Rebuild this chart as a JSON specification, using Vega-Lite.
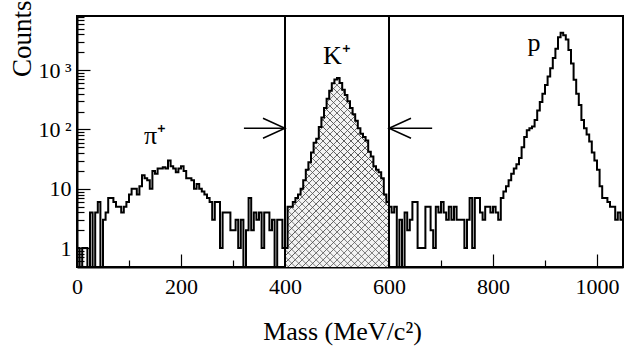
{
  "$schema": "https://vega.github.io/schema/vega-lite/v6.json",
  "width": 546,
  "height": 251,
  "autosize": {"type": "none"},
  "padding": {"left": 77, "top": 16, "right": 18, "bottom": 82},
  "background": "white",
  "config": {
    "view": {"stroke": "black", "strokeWidth": 2},
    "font": "Liberation Serif",
    "axis": {"labelFont": "Liberation Serif", "titleFont": "Liberation Serif"},
    "style": {"guide-label": {"font": "Liberation Serif"}, "guide-title": {"font": "Liberation Serif"}}
  },
  "datasets": {
    "hist": [
      {"lo":0,"hi":5,"n":1},{"lo":5,"hi":10,"n":0},{"lo":10,"hi":15,"n":1},{"lo":15,"hi":20,"n":1},{"lo":20,"hi":25,"n":0},
      {"lo":25,"hi":30,"n":4},{"lo":30,"hi":35,"n":0},{"lo":35,"hi":40,"n":4},{"lo":40,"hi":45,"n":6},{"lo":45,"hi":50,"n":0},
      {"lo":50,"hi":55,"n":3},{"lo":55,"hi":60,"n":4},{"lo":60,"hi":65,"n":7},{"lo":65,"hi":70,"n":7},{"lo":70,"hi":75,"n":6},
      {"lo":75,"hi":80,"n":5},{"lo":80,"hi":85,"n":5},{"lo":85,"hi":90,"n":4},{"lo":90,"hi":95,"n":5},{"lo":95,"hi":100,"n":6},
      {"lo":100,"hi":105,"n":8},{"lo":105,"hi":110,"n":10},{"lo":110,"hi":115,"n":10},{"lo":115,"hi":120,"n":8},{"lo":120,"hi":125,"n":11},
      {"lo":125,"hi":130,"n":17},{"lo":130,"hi":135,"n":15},{"lo":135,"hi":140,"n":14},{"lo":140,"hi":145,"n":10},{"lo":145,"hi":150,"n":20},
      {"lo":150,"hi":155,"n":18},{"lo":155,"hi":160,"n":22},{"lo":160,"hi":165,"n":22},{"lo":165,"hi":170,"n":23},{"lo":170,"hi":175,"n":22},
      {"lo":175,"hi":180,"n":30},{"lo":180,"hi":185,"n":24},{"lo":185,"hi":190,"n":22},{"lo":190,"hi":195,"n":19},{"lo":195,"hi":200,"n":22},
      {"lo":200,"hi":205,"n":24},{"lo":205,"hi":210,"n":20},{"lo":210,"hi":215,"n":15},{"lo":215,"hi":220,"n":15},{"lo":220,"hi":225,"n":14},
      {"lo":225,"hi":230,"n":10},{"lo":230,"hi":235,"n":12},{"lo":235,"hi":240,"n":10},{"lo":240,"hi":245,"n":9},{"lo":245,"hi":250,"n":8},
      {"lo":250,"hi":255,"n":7},{"lo":255,"hi":260,"n":6},{"lo":260,"hi":265,"n":3},{"lo":265,"hi":270,"n":6},{"lo":270,"hi":275,"n":6},
      {"lo":275,"hi":280,"n":1},{"lo":280,"hi":285,"n":4},{"lo":285,"hi":290,"n":4},{"lo":290,"hi":295,"n":4},{"lo":295,"hi":300,"n":2},
      {"lo":300,"hi":305,"n":2},{"lo":305,"hi":310,"n":3},{"lo":310,"hi":315,"n":1},{"lo":315,"hi":320,"n":3},{"lo":320,"hi":325,"n":0},
      {"lo":325,"hi":330,"n":2},{"lo":330,"hi":335,"n":7},{"lo":335,"hi":340,"n":2},{"lo":340,"hi":345,"n":4},{"lo":345,"hi":350,"n":3},
      {"lo":350,"hi":355,"n":4},{"lo":355,"hi":360,"n":1},{"lo":360,"hi":365,"n":4},{"lo":365,"hi":370,"n":4},{"lo":370,"hi":375,"n":2},
      {"lo":375,"hi":380,"n":3},{"lo":380,"hi":385,"n":0},{"lo":385,"hi":390,"n":3},{"lo":390,"hi":395,"n":3},{"lo":395,"hi":400,"n":1},
      {"lo":400,"hi":405,"n":1},{"lo":405,"hi":410,"n":5},{"lo":410,"hi":415,"n":5},{"lo":415,"hi":420,"n":6},{"lo":420,"hi":425,"n":7},
      {"lo":425,"hi":430,"n":8},{"lo":430,"hi":435,"n":10},{"lo":435,"hi":440,"n":14},{"lo":440,"hi":445,"n":21},{"lo":445,"hi":450,"n":28},
      {"lo":450,"hi":455,"n":41},{"lo":455,"hi":460,"n":60},{"lo":460,"hi":465,"n":70},{"lo":465,"hi":470,"n":110},{"lo":470,"hi":475,"n":160},
      {"lo":475,"hi":480,"n":230},{"lo":480,"hi":485,"n":330},{"lo":485,"hi":490,"n":450},{"lo":490,"hi":495,"n":600},{"lo":495,"hi":500,"n":700},
      {"lo":500,"hi":505,"n":740},{"lo":505,"hi":510,"n":610},{"lo":510,"hi":515,"n":470},{"lo":515,"hi":520,"n":380},{"lo":520,"hi":525,"n":300},
      {"lo":525,"hi":530,"n":230},{"lo":530,"hi":535,"n":180},{"lo":535,"hi":540,"n":140},{"lo":540,"hi":545,"n":105},{"lo":545,"hi":550,"n":85},
      {"lo":550,"hi":555,"n":75},{"lo":555,"hi":560,"n":65},{"lo":560,"hi":565,"n":42},{"lo":565,"hi":570,"n":35},{"lo":570,"hi":575,"n":24},
      {"lo":575,"hi":580,"n":21},{"lo":580,"hi":585,"n":19},{"lo":585,"hi":590,"n":15},{"lo":590,"hi":595,"n":8},{"lo":595,"hi":600,"n":6},
      {"lo":600,"hi":605,"n":5},{"lo":605,"hi":610,"n":4},{"lo":610,"hi":615,"n":5},{"lo":615,"hi":620,"n":0},{"lo":620,"hi":625,"n":3},
      {"lo":625,"hi":630,"n":0},{"lo":630,"hi":635,"n":4},{"lo":635,"hi":640,"n":2},{"lo":640,"hi":645,"n":3},{"lo":645,"hi":650,"n":6},
      {"lo":650,"hi":655,"n":6},{"lo":655,"hi":660,"n":1},{"lo":660,"hi":665,"n":1},{"lo":665,"hi":670,"n":1},{"lo":670,"hi":675,"n":5},
      {"lo":675,"hi":680,"n":5},{"lo":680,"hi":685,"n":2},{"lo":685,"hi":690,"n":1},{"lo":690,"hi":695,"n":5},{"lo":695,"hi":700,"n":4},
      {"lo":700,"hi":705,"n":6},{"lo":705,"hi":710,"n":4},{"lo":710,"hi":715,"n":3},{"lo":715,"hi":720,"n":5},{"lo":720,"hi":725,"n":3},
      {"lo":725,"hi":730,"n":5},{"lo":730,"hi":735,"n":3},{"lo":735,"hi":740,"n":3},{"lo":740,"hi":745,"n":3},{"lo":745,"hi":750,"n":1},
      {"lo":750,"hi":755,"n":3},{"lo":755,"hi":760,"n":7},{"lo":760,"hi":765,"n":1},{"lo":765,"hi":770,"n":7},{"lo":770,"hi":775,"n":7},
      {"lo":775,"hi":780,"n":4},{"lo":780,"hi":785,"n":3},{"lo":785,"hi":790,"n":5},{"lo":790,"hi":795,"n":5},{"lo":795,"hi":800,"n":4},
      {"lo":800,"hi":805,"n":5},{"lo":805,"hi":810,"n":4},{"lo":810,"hi":815,"n":3},{"lo":815,"hi":820,"n":7},{"lo":820,"hi":825,"n":9},
      {"lo":825,"hi":830,"n":11},{"lo":830,"hi":835,"n":14},{"lo":835,"hi":840,"n":18},{"lo":840,"hi":845,"n":22},{"lo":845,"hi":850,"n":26},
      {"lo":850,"hi":855,"n":33},{"lo":855,"hi":860,"n":50},{"lo":860,"hi":865,"n":75},{"lo":865,"hi":870,"n":97},{"lo":870,"hi":875,"n":105},
      {"lo":875,"hi":880,"n":112},{"lo":880,"hi":885,"n":145},{"lo":885,"hi":890,"n":210},{"lo":890,"hi":895,"n":290},{"lo":895,"hi":900,"n":400},
      {"lo":900,"hi":905,"n":560},{"lo":905,"hi":910,"n":780},{"lo":910,"hi":915,"n":1080},{"lo":915,"hi":920,"n":1600},{"lo":920,"hi":925,"n":2300},
      {"lo":925,"hi":930,"n":3600},{"lo":930,"hi":935,"n":4300},{"lo":935,"hi":940,"n":3900},{"lo":940,"hi":945,"n":3300},{"lo":945,"hi":950,"n":2200},
      {"lo":950,"hi":955,"n":1300},{"lo":955,"hi":960,"n":690},{"lo":960,"hi":965,"n":400},{"lo":965,"hi":970,"n":260},{"lo":970,"hi":975,"n":145},
      {"lo":975,"hi":980,"n":105},{"lo":980,"hi":985,"n":82},{"lo":985,"hi":990,"n":63},{"lo":990,"hi":995,"n":41},{"lo":995,"hi":1000,"n":30},
      {"lo":1000,"hi":1005,"n":21},{"lo":1005,"hi":1010,"n":11},{"lo":1010,"hi":1015,"n":7},{"lo":1015,"hi":1020,"n":7},{"lo":1020,"hi":1025,"n":6},
      {"lo":1025,"hi":1030,"n":5},{"lo":1030,"hi":1035,"n":5},{"lo":1035,"hi":1040,"n":3},{"lo":1040,"hi":1045,"n":4},{"lo":1045,"hi":1050,"n":3}
    ],
    "cuts": [{"mass": 400}, {"mass": 600}],
    "arrows": [
      {"mass": 321, "mass2": 400, "n": 105, "dir": "right"},
      {"mass": 683, "mass2": 600, "n": 105, "dir": "left"}
    ],
    "labels": [
      {"t": "π⁺", "mass": 150, "n": 56},
      {"t": "K⁺", "mass": 500, "n": 1260},
      {"t": "p", "mass": 879, "n": 2100}
    ]
  },
  "layer": [
    {
      "data": {"name": "hist"},
      "transform": [
        {"filter": "datum.lo >= 400 && datum.hi <= 600"},
        {"fold": ["lo", "hi"], "as": ["edge", "mass"]}
      ],
      "mark": {
        "type": "area", "interpolate": "linear", "clip": true,
        "fill": {
          "gradient": "linear", "x1": 0, "y1": 0, "x2": 1, "y2": 1.817,
          "stops": [
            {"offset": 0, "color": "#f3f3f3"},
            {"offset": 0.006, "color": "#f3f3f3"},{"offset": 0.0078, "color": "#555555"},{"offset": 0.0096, "color": "#f3f3f3"},
            {"offset": 0.0216, "color": "#f3f3f3"},{"offset": 0.0234, "color": "#555555"},{"offset": 0.0252, "color": "#f3f3f3"},
            {"offset": 0.0372, "color": "#f3f3f3"},{"offset": 0.039, "color": "#555555"},{"offset": 0.0408, "color": "#f3f3f3"},
            {"offset": 0.0528, "color": "#f3f3f3"},{"offset": 0.0546, "color": "#555555"},{"offset": 0.0564, "color": "#f3f3f3"},
            {"offset": 0.0684, "color": "#f3f3f3"},{"offset": 0.0702, "color": "#555555"},{"offset": 0.072, "color": "#f3f3f3"},
            {"offset": 0.084, "color": "#f3f3f3"},{"offset": 0.0858, "color": "#555555"},{"offset": 0.0876, "color": "#f3f3f3"},
            {"offset": 0.0996, "color": "#f3f3f3"},{"offset": 0.1014, "color": "#555555"},{"offset": 0.1032, "color": "#f3f3f3"},
            {"offset": 0.1152, "color": "#f3f3f3"},{"offset": 0.117, "color": "#555555"},{"offset": 0.1188, "color": "#f3f3f3"},
            {"offset": 0.1308, "color": "#f3f3f3"},{"offset": 0.1326, "color": "#555555"},{"offset": 0.1344, "color": "#f3f3f3"},
            {"offset": 0.1464, "color": "#f3f3f3"},{"offset": 0.1482, "color": "#555555"},{"offset": 0.15, "color": "#f3f3f3"},
            {"offset": 0.162, "color": "#f3f3f3"},{"offset": 0.1638, "color": "#555555"},{"offset": 0.1656, "color": "#f3f3f3"},
            {"offset": 0.1776, "color": "#f3f3f3"},{"offset": 0.1794, "color": "#555555"},{"offset": 0.1812, "color": "#f3f3f3"},
            {"offset": 0.1932, "color": "#f3f3f3"},{"offset": 0.195, "color": "#555555"},{"offset": 0.1968, "color": "#f3f3f3"},
            {"offset": 0.2088, "color": "#f3f3f3"},{"offset": 0.2106, "color": "#555555"},{"offset": 0.2124, "color": "#f3f3f3"},
            {"offset": 0.2244, "color": "#f3f3f3"},{"offset": 0.2262, "color": "#555555"},{"offset": 0.228, "color": "#f3f3f3"},
            {"offset": 0.24, "color": "#f3f3f3"},{"offset": 0.2418, "color": "#555555"},{"offset": 0.2436, "color": "#f3f3f3"},
            {"offset": 0.2556, "color": "#f3f3f3"},{"offset": 0.2574, "color": "#555555"},{"offset": 0.2592, "color": "#f3f3f3"},
            {"offset": 0.2712, "color": "#f3f3f3"},{"offset": 0.273, "color": "#555555"},{"offset": 0.2748, "color": "#f3f3f3"},
            {"offset": 0.2868, "color": "#f3f3f3"},{"offset": 0.2886, "color": "#555555"},{"offset": 0.2904, "color": "#f3f3f3"},
            {"offset": 0.3024, "color": "#f3f3f3"},{"offset": 0.3042, "color": "#555555"},{"offset": 0.306, "color": "#f3f3f3"},
            {"offset": 0.318, "color": "#f3f3f3"},{"offset": 0.3198, "color": "#555555"},{"offset": 0.3216, "color": "#f3f3f3"},
            {"offset": 0.3336, "color": "#f3f3f3"},{"offset": 0.3354, "color": "#555555"},{"offset": 0.3372, "color": "#f3f3f3"},
            {"offset": 0.3492, "color": "#f3f3f3"},{"offset": 0.351, "color": "#555555"},{"offset": 0.3528, "color": "#f3f3f3"},
            {"offset": 0.3648, "color": "#f3f3f3"},{"offset": 0.3666, "color": "#555555"},{"offset": 0.3684, "color": "#f3f3f3"},
            {"offset": 0.3804, "color": "#f3f3f3"},{"offset": 0.3822, "color": "#555555"},{"offset": 0.384, "color": "#f3f3f3"},
            {"offset": 0.396, "color": "#f3f3f3"},{"offset": 0.3978, "color": "#555555"},{"offset": 0.3996, "color": "#f3f3f3"},
            {"offset": 0.4116, "color": "#f3f3f3"},{"offset": 0.4134, "color": "#555555"},{"offset": 0.4152, "color": "#f3f3f3"},
            {"offset": 0.4272, "color": "#f3f3f3"},{"offset": 0.429, "color": "#555555"},{"offset": 0.4308, "color": "#f3f3f3"},
            {"offset": 0.4428, "color": "#f3f3f3"},{"offset": 0.4446, "color": "#555555"},{"offset": 0.4464, "color": "#f3f3f3"},
            {"offset": 0.4584, "color": "#f3f3f3"},{"offset": 0.4602, "color": "#555555"},{"offset": 0.462, "color": "#f3f3f3"},
            {"offset": 0.474, "color": "#f3f3f3"},{"offset": 0.4758, "color": "#555555"},{"offset": 0.4776, "color": "#f3f3f3"},
            {"offset": 0.4896, "color": "#f3f3f3"},{"offset": 0.4914, "color": "#555555"},{"offset": 0.4932, "color": "#f3f3f3"},
            {"offset": 0.5052, "color": "#f3f3f3"},{"offset": 0.507, "color": "#555555"},{"offset": 0.5088, "color": "#f3f3f3"},
            {"offset": 0.5208, "color": "#f3f3f3"},{"offset": 0.5226, "color": "#555555"},{"offset": 0.5244, "color": "#f3f3f3"},
            {"offset": 0.5364, "color": "#f3f3f3"},{"offset": 0.5382, "color": "#555555"},{"offset": 0.54, "color": "#f3f3f3"},
            {"offset": 0.552, "color": "#f3f3f3"},{"offset": 0.5538, "color": "#555555"},{"offset": 0.5556, "color": "#f3f3f3"},
            {"offset": 0.5676, "color": "#f3f3f3"},{"offset": 0.5694, "color": "#555555"},{"offset": 0.5712, "color": "#f3f3f3"},
            {"offset": 0.5832, "color": "#f3f3f3"},{"offset": 0.585, "color": "#555555"},{"offset": 0.5868, "color": "#f3f3f3"},
            {"offset": 0.5988, "color": "#f3f3f3"},{"offset": 0.6006, "color": "#555555"},{"offset": 0.6024, "color": "#f3f3f3"},
            {"offset": 0.6144, "color": "#f3f3f3"},{"offset": 0.6162, "color": "#555555"},{"offset": 0.618, "color": "#f3f3f3"},
            {"offset": 0.63, "color": "#f3f3f3"},{"offset": 0.6318, "color": "#555555"},{"offset": 0.6336, "color": "#f3f3f3"},
            {"offset": 0.6456, "color": "#f3f3f3"},{"offset": 0.6474, "color": "#555555"},{"offset": 0.6492, "color": "#f3f3f3"},
            {"offset": 0.6612, "color": "#f3f3f3"},{"offset": 0.663, "color": "#555555"},{"offset": 0.6648, "color": "#f3f3f3"},
            {"offset": 1, "color": "#f3f3f3"}
          ]
        }
      },
      "encoding": {
        "x": {
          "field": "mass", "type": "quantitative",
          "scale": {"domain": [0, 1050], "nice": false, "zero": false},
          "axis": {
            "title": "Mass (MeV/c²)",
            "values": [0,50,100,150,200,250,300,350,400,450,500,550,600,650,700,750,800,850,900,950,1000],
            "labelExpr": "datum.value % 200 === 0 ? format(datum.value, 'd') : ''",
            "tickSize": {"condition": {"test": "datum.value % 200 === 0", "value": -13}, "value": -7},
            "tickColor": "black", "tickWidth": 1.2,
            "domainColor": "black", "domainWidth": 2,
            "grid": false,
            "labelFont": "Liberation Serif", "labelFontSize": 22, "labelColor": "black",
            "labelPadding": 22, "labelFlush": false, "labelOverlap": false,
            "titleFont": "Liberation Serif", "titleFontSize": 26, "titleFontWeight": "normal", "titleColor": "black",
            "titleX": 265, "titleY": 72, "titleAlign": "center", "titleBaseline": "alphabetic"
          }
        },
        "y": {
          "field": "n", "type": "quantitative",
          "scale": {"type": "log", "domain": [0.48, 8200], "nice": false, "clamp": true},
          "axis": {
            "title": "Counts",
            "values": [0.5,0.6,0.7,0.8,0.9,1,2,3,4,5,6,7,8,9,10,20,30,40,50,60,70,80,90,100,200,300,400,500,600,700,800,900,1000,2000,3000,4000,5000,6000,7000,8000],
            "labelExpr": "datum.value == 1 ? '1\u2002' : datum.value == 10 ? '10\u2002' : datum.value == 100 ? '10\u2009²' : datum.value == 1000 ? '10\u2009³' : ''",
            "tickSize": {"condition": {"test": "datum.value == 1 || datum.value == 10 || datum.value == 100 || datum.value == 1000", "value": -13}, "value": -7},
            "tickColor": "black", "tickWidth": 1.2,
            "domainColor": "black", "domainWidth": 2,
            "grid": false,
            "labelFont": "Liberation Serif", "labelFontSize": 22, "labelColor": "black",
            "labelPadding": 19, "labelOverlap": false, "labelFlush": false,
            "titleFont": "Liberation Serif", "titleFontSize": 27, "titleFontWeight": "normal", "titleColor": "black",
            "titleAngle": -90, "titleX": -68, "titleY": -16, "titleAlign": "right", "titleBaseline": "top"
          }
        },
        "y2": {"datum": 0.48}
      }
    },
    {
      "data": {"name": "hist"},
      "transform": [
        {"filter": "datum.lo >= 400 && datum.hi <= 600"},
        {"fold": ["lo", "hi"], "as": ["edge", "mass"]}
      ],
      "mark": {
        "type": "area", "interpolate": "linear", "clip": true,
        "fill": {
          "gradient": "linear", "x1": 0, "y1": 1, "x2": 1, "y2": -0.817,
          "stops": [
            {"offset": 0, "color": "rgba(85,85,85,0)"},
            {"offset": 0.006, "color": "rgba(85,85,85,0)"},{"offset": 0.0078, "color": "#555555"},{"offset": 0.0096, "color": "rgba(85,85,85,0)"},
            {"offset": 0.0216, "color": "rgba(85,85,85,0)"},{"offset": 0.0234, "color": "#555555"},{"offset": 0.0252, "color": "rgba(85,85,85,0)"},
            {"offset": 0.0372, "color": "rgba(85,85,85,0)"},{"offset": 0.039, "color": "#555555"},{"offset": 0.0408, "color": "rgba(85,85,85,0)"},
            {"offset": 0.0528, "color": "rgba(85,85,85,0)"},{"offset": 0.0546, "color": "#555555"},{"offset": 0.0564, "color": "rgba(85,85,85,0)"},
            {"offset": 0.0684, "color": "rgba(85,85,85,0)"},{"offset": 0.0702, "color": "#555555"},{"offset": 0.072, "color": "rgba(85,85,85,0)"},
            {"offset": 0.084, "color": "rgba(85,85,85,0)"},{"offset": 0.0858, "color": "#555555"},{"offset": 0.0876, "color": "rgba(85,85,85,0)"},
            {"offset": 0.0996, "color": "rgba(85,85,85,0)"},{"offset": 0.1014, "color": "#555555"},{"offset": 0.1032, "color": "rgba(85,85,85,0)"},
            {"offset": 0.1152, "color": "rgba(85,85,85,0)"},{"offset": 0.117, "color": "#555555"},{"offset": 0.1188, "color": "rgba(85,85,85,0)"},
            {"offset": 0.1308, "color": "rgba(85,85,85,0)"},{"offset": 0.1326, "color": "#555555"},{"offset": 0.1344, "color": "rgba(85,85,85,0)"},
            {"offset": 0.1464, "color": "rgba(85,85,85,0)"},{"offset": 0.1482, "color": "#555555"},{"offset": 0.15, "color": "rgba(85,85,85,0)"},
            {"offset": 0.162, "color": "rgba(85,85,85,0)"},{"offset": 0.1638, "color": "#555555"},{"offset": 0.1656, "color": "rgba(85,85,85,0)"},
            {"offset": 0.1776, "color": "rgba(85,85,85,0)"},{"offset": 0.1794, "color": "#555555"},{"offset": 0.1812, "color": "rgba(85,85,85,0)"},
            {"offset": 0.1932, "color": "rgba(85,85,85,0)"},{"offset": 0.195, "color": "#555555"},{"offset": 0.1968, "color": "rgba(85,85,85,0)"},
            {"offset": 0.2088, "color": "rgba(85,85,85,0)"},{"offset": 0.2106, "color": "#555555"},{"offset": 0.2124, "color": "rgba(85,85,85,0)"},
            {"offset": 0.2244, "color": "rgba(85,85,85,0)"},{"offset": 0.2262, "color": "#555555"},{"offset": 0.228, "color": "rgba(85,85,85,0)"},
            {"offset": 0.24, "color": "rgba(85,85,85,0)"},{"offset": 0.2418, "color": "#555555"},{"offset": 0.2436, "color": "rgba(85,85,85,0)"},
            {"offset": 0.2556, "color": "rgba(85,85,85,0)"},{"offset": 0.2574, "color": "#555555"},{"offset": 0.2592, "color": "rgba(85,85,85,0)"},
            {"offset": 0.2712, "color": "rgba(85,85,85,0)"},{"offset": 0.273, "color": "#555555"},{"offset": 0.2748, "color": "rgba(85,85,85,0)"},
            {"offset": 0.2868, "color": "rgba(85,85,85,0)"},{"offset": 0.2886, "color": "#555555"},{"offset": 0.2904, "color": "rgba(85,85,85,0)"},
            {"offset": 0.3024, "color": "rgba(85,85,85,0)"},{"offset": 0.3042, "color": "#555555"},{"offset": 0.306, "color": "rgba(85,85,85,0)"},
            {"offset": 0.318, "color": "rgba(85,85,85,0)"},{"offset": 0.3198, "color": "#555555"},{"offset": 0.3216, "color": "rgba(85,85,85,0)"},
            {"offset": 0.3336, "color": "rgba(85,85,85,0)"},{"offset": 0.3354, "color": "#555555"},{"offset": 0.3372, "color": "rgba(85,85,85,0)"},
            {"offset": 0.3492, "color": "rgba(85,85,85,0)"},{"offset": 0.351, "color": "#555555"},{"offset": 0.3528, "color": "rgba(85,85,85,0)"},
            {"offset": 0.3648, "color": "rgba(85,85,85,0)"},{"offset": 0.3666, "color": "#555555"},{"offset": 0.3684, "color": "rgba(85,85,85,0)"},
            {"offset": 0.3804, "color": "rgba(85,85,85,0)"},{"offset": 0.3822, "color": "#555555"},{"offset": 0.384, "color": "rgba(85,85,85,0)"},
            {"offset": 0.396, "color": "rgba(85,85,85,0)"},{"offset": 0.3978, "color": "#555555"},{"offset": 0.3996, "color": "rgba(85,85,85,0)"},
            {"offset": 0.4116, "color": "rgba(85,85,85,0)"},{"offset": 0.4134, "color": "#555555"},{"offset": 0.4152, "color": "rgba(85,85,85,0)"},
            {"offset": 0.4272, "color": "rgba(85,85,85,0)"},{"offset": 0.429, "color": "#555555"},{"offset": 0.4308, "color": "rgba(85,85,85,0)"},
            {"offset": 0.4428, "color": "rgba(85,85,85,0)"},{"offset": 0.4446, "color": "#555555"},{"offset": 0.4464, "color": "rgba(85,85,85,0)"},
            {"offset": 0.4584, "color": "rgba(85,85,85,0)"},{"offset": 0.4602, "color": "#555555"},{"offset": 0.462, "color": "rgba(85,85,85,0)"},
            {"offset": 0.474, "color": "rgba(85,85,85,0)"},{"offset": 0.4758, "color": "#555555"},{"offset": 0.4776, "color": "rgba(85,85,85,0)"},
            {"offset": 0.4896, "color": "rgba(85,85,85,0)"},{"offset": 0.4914, "color": "#555555"},{"offset": 0.4932, "color": "rgba(85,85,85,0)"},
            {"offset": 0.5052, "color": "rgba(85,85,85,0)"},{"offset": 0.507, "color": "#555555"},{"offset": 0.5088, "color": "rgba(85,85,85,0)"},
            {"offset": 0.5208, "color": "rgba(85,85,85,0)"},{"offset": 0.5226, "color": "#555555"},{"offset": 0.5244, "color": "rgba(85,85,85,0)"},
            {"offset": 0.5364, "color": "rgba(85,85,85,0)"},{"offset": 0.5382, "color": "#555555"},{"offset": 0.54, "color": "rgba(85,85,85,0)"},
            {"offset": 0.552, "color": "rgba(85,85,85,0)"},{"offset": 0.5538, "color": "#555555"},{"offset": 0.5556, "color": "rgba(85,85,85,0)"},
            {"offset": 0.5676, "color": "rgba(85,85,85,0)"},{"offset": 0.5694, "color": "#555555"},{"offset": 0.5712, "color": "rgba(85,85,85,0)"},
            {"offset": 0.5832, "color": "rgba(85,85,85,0)"},{"offset": 0.585, "color": "#555555"},{"offset": 0.5868, "color": "rgba(85,85,85,0)"},
            {"offset": 0.5988, "color": "rgba(85,85,85,0)"},{"offset": 0.6006, "color": "#555555"},{"offset": 0.6024, "color": "rgba(85,85,85,0)"},
            {"offset": 0.6144, "color": "rgba(85,85,85,0)"},{"offset": 0.6162, "color": "#555555"},{"offset": 0.618, "color": "rgba(85,85,85,0)"},
            {"offset": 0.63, "color": "rgba(85,85,85,0)"},{"offset": 0.6318, "color": "#555555"},{"offset": 0.6336, "color": "rgba(85,85,85,0)"},
            {"offset": 0.6456, "color": "rgba(85,85,85,0)"},{"offset": 0.6474, "color": "#555555"},{"offset": 0.6492, "color": "rgba(85,85,85,0)"},
            {"offset": 0.6612, "color": "rgba(85,85,85,0)"},{"offset": 0.663, "color": "#555555"},{"offset": 0.6648, "color": "rgba(85,85,85,0)"},
            {"offset": 1, "color": "rgba(85,85,85,0)"}
          ]
        }
      },
      "encoding": {
        "x": {"field": "mass", "type": "quantitative"},
        "y": {"field": "n", "type": "quantitative"},
        "y2": {"datum": 0.48}
      }
    },
    {
      "data": {"name": "cuts"},
      "mark": {"type": "rule", "color": "black", "strokeWidth": 2},
      "encoding": {"x": {"field": "mass", "type": "quantitative"}}
    },
    {
      "data": {"name": "hist"},
      "transform": [{"fold": ["lo", "hi"], "as": ["edge", "mass"]}],
      "mark": {"type": "line", "color": "black", "strokeWidth": 2, "interpolate": "linear", "invalid": "show", "clip": true},
      "encoding": {
        "x": {"field": "mass", "type": "quantitative"},
        "y": {"field": "n", "type": "quantitative"}
      }
    },
    {
      "data": {"name": "arrows"},
      "mark": {"type": "rule", "color": "black", "strokeWidth": 1.5},
      "encoding": {
        "x": {"field": "mass", "type": "quantitative"},
        "x2": {"field": "mass2"},
        "y": {"field": "n", "type": "quantitative"}
      }
    },
    {
      "data": {"name": "arrows"},
      "mark": {"type": "point", "filled": false, "stroke": "black", "strokeWidth": 1.5, "size": 400, "opacity": 1},
      "encoding": {
        "x": {"field": "mass2", "type": "quantitative"},
        "y": {"field": "n", "type": "quantitative"},
        "shape": {"field": "dir", "type": "nominal", "legend": null,
          "scale": {"domain": ["right", "left"], "range": ["M -2.2 -1 L 0 0 L -2.2 1", "M 2.2 -1 L 0 0 L 2.2 1"]}}
      }
    },
    {
      "data": {"name": "labels"},
      "mark": {"type": "text", "font": "Liberation Serif", "fontSize": 26, "align": "center", "baseline": "alphabetic", "color": "black"},
      "encoding": {
        "x": {"field": "mass", "type": "quantitative"},
        "y": {"field": "n", "type": "quantitative"},
        "text": {"field": "t"}
      }
    }
  ]
}
